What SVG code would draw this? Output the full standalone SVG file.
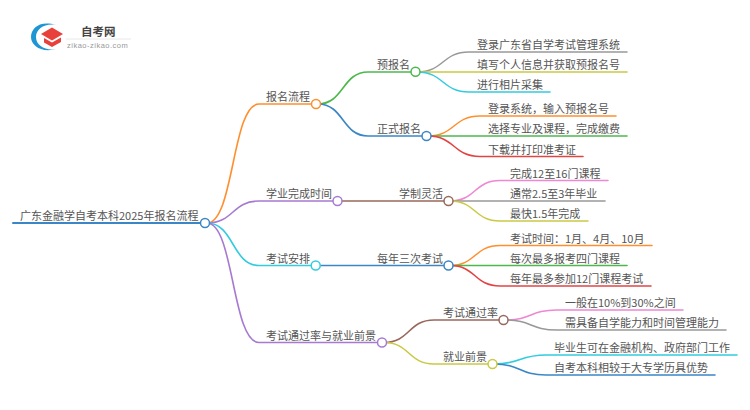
<svg xmlns="http://www.w3.org/2000/svg" width="750" height="410" viewBox="0 0 750 410">
<style>
text{font-family:"Noto Sans CJK SC","Noto Sans",sans-serif;font-size:11px;fill:#555}
.c{fill:none;stroke-width:1.6;stroke-linecap:round}
.n{fill:#fff;stroke-width:1.5}
.or{stroke:#ff8f2e}.gn{stroke:#4cb84c}.bl{stroke:#3a86c6}.pu{stroke:#a67ad2}.cy{stroke:#33cbe0}.gy{stroke:#999}.ol{stroke:#c9c944}.pk{stroke:#ee88d2}.rd{stroke:#e24444}.br{stroke:#98685c}
</style>
<g id="logo">
<path d="M56 25C40 20 31 28 31 37C31 46 42 53 56 49C46 51 36 46 36 37C36 29 45 23 56 25Z" fill="#1e96d4"/>
<path d="M52 27.500L63 34L52 40.500L41 34Z" fill="#e8413c"/>
<path d="M44 38L52 42.500L61 37.500V42L52 47L44 42.500Z" fill="#e8413c"/>
<text x="81" y="35.500" style="font-size:11.500px;font-weight:700;fill:#444">自考网</text>
<path d="M66 39H131" stroke="#e8e8e8" fill="none"/>
<text x="67" y="48" style="font-family:'Liberation Sans',sans-serif;font-size:7.500px;fill:#999;letter-spacing:.5px">zikao-zikao.com</text>
</g>
<g id="connectors">
<path class="c bl" style="stroke-width:2" d="M13 223H205"/>
<path class="c or" d="M207 223C234 223 232 104 259 104H316"/>
<path class="c pu" d="M207 223C234 223 232 201 259 201H337"/>
<path class="c cy" d="M207 223C234 223 232 265.500 259 265.500H316"/>
<path class="c pu" d="M207 223C234 223 232 342.500 259 342.500H382"/>
<path class="c gn" d="M318 104C344 104 342 72 368 72H415"/>
<path class="c bl" d="M318 104C344 104 342 136 368 136H426"/>
<path class="c br" d="M337 201H448"/>
<path class="c bl" d="M316 265.500H448"/>
<path class="c br" d="M384 342.500C410 342.500 408 320 434 320H503"/>
<path class="c ol" d="M384 342.500C410 342.500 408 364 434 364H492"/>
<path class="c gy" d="M417 72C444 72 442 52 469 52H627"/>
<path class="c ol" d="M417 72H627"/>
<path class="c cy" d="M417 72C444 72 442 92 469 92H550"/>
<path class="c or" d="M428 136C455 136 453 116 480 116H616"/>
<path class="c gn" d="M428 136H627"/>
<path class="c rd" d="M428 136C455 136 453 156.500 480 156.500H583"/>
<path class="c pk" d="M450 201C476 201 474 180.500 500 180.500H608"/>
<path class="c gy" d="M450 201H605"/>
<path class="c ol" d="M450 201C476 201 474 221 500 221H588"/>
<path class="c or" d="M450 265.500C476 265.500 474 245.500 500 245.500H652"/>
<path class="c gn" d="M450 265.500H627"/>
<path class="c rd" d="M450 265.500C476 265.500 474 286 500 286H651"/>
<path class="c pk" d="M505 320C532 320 530 310 557 310H683"/>
<path class="c gy" d="M505 320C532 320 530 330 557 330H726"/>
<path class="c cy" d="M494 364C521 364 519 355 546 355H737"/>
<path class="c bl" d="M494 364C521 364 519 375 546 375H715"/>
</g>
<g id="root"><text x="20" y="219.500">广东金融学自考本科2025年报名流程</text><circle class="n bl" cx="205" cy="223" r="4.500"/></g>
<g id="n1"><text x="266" y="101">报名流程</text><circle class="n or" cx="316" cy="104" r="4.500"/></g>
<g id="n2"><text x="266" y="198">学业完成时间</text><circle class="n pu" cx="337.500" cy="201" r="4.500"/></g>
<g id="n3"><text x="266" y="262.500">考试安排</text><circle class="n cy" cx="315.700" cy="265.500" r="4.500"/></g>
<g id="n4"><text x="266" y="339.500">考试通过率与就业前景</text><circle class="n pu" cx="382" cy="342.500" r="4.500"/></g>
<g id="n11"><text x="377" y="69">预报名</text><circle class="n gn" cx="415.500" cy="71.700" r="4.500"/></g>
<g id="n12"><text x="377" y="133">正式报名</text><circle class="n bl" cx="426.500" cy="136" r="4.500"/></g>
<g id="n21"><text x="399" y="198">学制灵活</text><circle class="n br" cx="448.500" cy="201" r="4.500"/></g>
<g id="n31"><text x="377" y="262.500">每年三次考试</text><circle class="n bl" cx="448.500" cy="265.500" r="4.500"/></g>
<g id="n41"><text x="443" y="317">考试通过率</text><circle class="n br" cx="503.500" cy="320" r="4.500"/></g>
<g id="n42"><text x="443" y="361">就业前景</text><circle class="n ol" cx="492.500" cy="364" r="4.500"/></g>
<g id="l1"><text x="477" y="49">登录广东省自学考试管理系统</text></g>
<g id="l2"><text x="477" y="69">填写个人信息并获取预报名号</text></g>
<g id="l3"><text x="477" y="89">进行相片采集</text></g>
<g id="l4"><text x="488" y="113">登录系统，输入预报名号</text></g>
<g id="l5"><text x="488" y="133">选择专业及课程，完成缴费</text></g>
<g id="l6"><text x="488" y="153.500">下载并打印准考证</text></g>
<g id="l7"><text x="510" y="177.500">完成12至16门课程</text></g>
<g id="l8"><text x="510" y="198">通常2.5至3年毕业</text></g>
<g id="l9"><text x="510" y="218">最快1.5年完成</text></g>
<g id="l10"><text x="510" y="242.500">考试时间：1月、4月、10月</text></g>
<g id="l11"><text x="510" y="262.500">每次最多报考四门课程</text></g>
<g id="l12"><text x="510" y="283">每年最多参加12门课程考试</text></g>
<g id="l13"><text x="565" y="307">一般在10%到30%之间</text></g>
<g id="l14"><text x="565" y="327">需具备自学能力和时间管理能力</text></g>
<g id="l15"><text x="554" y="352">毕业生可在金融机构、政府部门工作</text></g>
<g id="l16"><text x="554" y="372">自考本科相较于大专学历具优势</text></g>
</svg>
